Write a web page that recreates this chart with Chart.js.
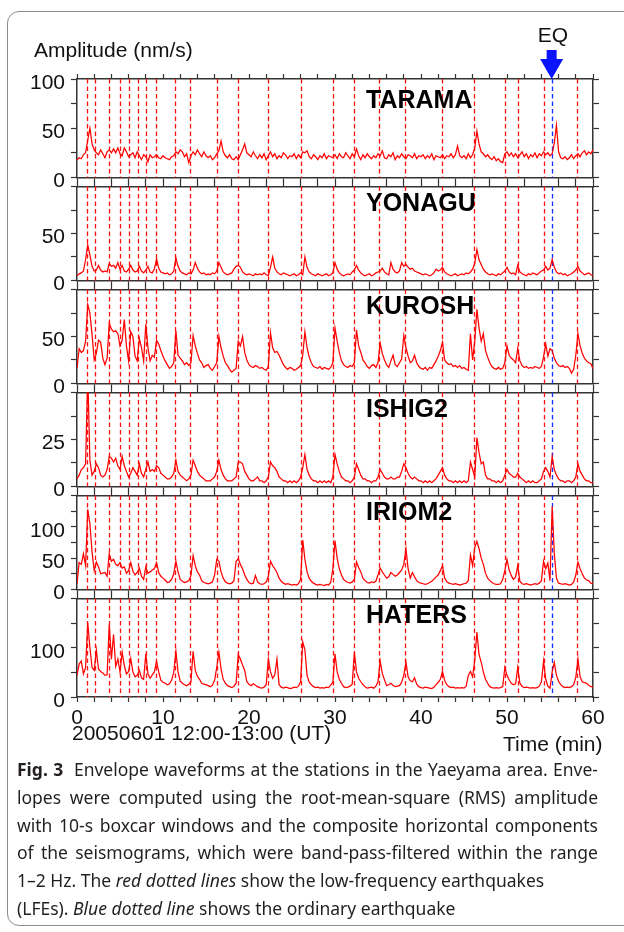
<!DOCTYPE html>
<html>
<head>
<meta charset="utf-8">
<script src="https://cdn.jsdelivr.net/npm/chart.js@4.4.1/dist/chart.umd.min.js"></script>
<style>
  html, body { margin: 0; padding: 0; background: #fff; }
  body { width: 624px; height: 932px; position: relative; overflow: hidden; font-family: "Liberation Sans", Arial, sans-serif; }
  .frame { position: absolute; left: 7px; top: 11px; width: 660px; height: 915px; border: 1.5px solid #8c8c8c; border-radius: 12px; box-sizing: border-box; }
  canvas { position: absolute; left: 0; }
  .lbl { position: absolute; font-size: 21px; line-height: 21px; color: #111; white-space: nowrap; }
  .stn { position: absolute; left: 366px; font-size: 25px; line-height: 25px; font-weight: bold; color: #000; }
  .caption { position: absolute; left: 17px; top: 756px; width: 581px; font-family: "Noto Sans", sans-serif; font-size: 17.5px; line-height: 27.8px; color: #231f20; }
  .caption div { white-space: nowrap; }
  .caption .j { text-align: justify; text-align-last: justify; }
</style>
</head>
<body>
<div class="frame"></div>
<div id="plots"></div>

<div class="lbl" style="left:34px; top:39px;">Amplitude (nm/s)</div>
<div class="lbl" style="left:533px; top:24px; width:40px; text-align:center;">EQ</div>
<div class="lbl" style="left:72px; top:722px;">20050601 12:00-13:00 (UT)</div>
<div class="lbl" style="left:503px; top:733px;">Time (min)</div>

<div class="caption">
  <div class="j"><b>Fig. 3</b>&nbsp; Envelope waveforms at the stations in the Yaeyama area. Enve-</div>
  <div class="j">lopes were computed using the root-mean-square (RMS) amplitude</div>
  <div class="j">with 10-s boxcar windows and the composite horizontal components</div>
  <div class="j">of the seismograms, which were band-pass-filtered within the range</div>
  <div>1–2 Hz. The <i>red dotted lines</i> show the low-frequency earthquakes</div>
  <div>(LFEs). <i>Blue dotted line</i> shows the ordinary earthquake</div>
</div>

<script>
// envelope samples every 0.25 min, 12:00-13:00 UT
const sampleStep = 0.25;

const tarama = [
  18, 20, 19, 23, 25, 38, 50, 34, 28, 25, 23, 28, 24, 20, 26, 28, 25, 29, 25, 30,
  24, 22, 30, 26, 21, 23, 25, 20, 26, 22, 18, 23, 21, 16, 23, 20, 21, 23, 20, 19,
  22, 20, 19, 18, 21, 22, 26, 24, 28, 26, 21, 24, 15, 22, 26, 23, 28, 24, 21, 26,
  22, 20, 22, 18, 20, 24, 27, 37, 26, 22, 20, 23, 19, 18, 21, 18, 23, 28, 34, 25,
  23, 21, 26, 22, 19, 23, 20, 24, 18, 22, 26, 21, 24, 19, 22, 20, 25, 23, 19, 22,
  21, 24, 19, 23, 20, 26, 25, 27, 21, 19, 23, 21, 18, 22, 20, 24, 19, 22, 21, 20,
  23, 19, 24, 21, 20, 25, 22, 19, 24, 21, 29, 22, 18, 23, 20, 24, 21, 19, 22, 20,
  24, 22, 27, 20, 19, 23, 21, 25, 18, 22, 20, 24, 21, 19, 23, 22, 20, 24, 19, 22,
  21, 23, 19, 22, 20, 24, 18, 22, 21, 20, 23, 19, 22, 21, 24, 20, 23, 32, 22, 20,
  22, 19, 24, 20, 23, 30, 47, 34, 26, 24, 21, 23, 20, 18, 21, 17, 19, 16, 15, 24,
  26, 22, 25, 21, 24, 20, 23, 26, 21, 24, 19, 23, 21, 25, 20, 24, 22, 26, 23, 25,
  22, 24, 35, 53, 26, 20, 19, 21, 18, 20, 23, 19, 22, 24, 21, 25, 27, 23, 26, 24,
  28
];

const yonagu = [
  5, 7, 8, 10, 22, 38, 27, 15, 10, 11, 16, 11, 9, 10, 9, 18, 15, 16, 13, 19,
  12, 16, 10, 9, 12, 16, 11, 9, 10, 15, 10, 8, 11, 15, 9, 8, 12, 23, 13, 9,
  8, 7, 8, 6, 7, 10, 24, 15, 10, 8, 7, 6, 8, 7, 11, 19, 13, 9, 7, 8,
  6, 7, 6, 8, 7, 10, 19, 14, 9, 7, 6, 7, 8, 12, 15, 16, 14, 9, 7, 6,
  7, 6, 5, 7, 6, 7, 6, 8, 6, 5, 14, 25, 13, 9, 7, 6, 8, 7, 6, 5,
  6, 7, 5, 6, 8, 6, 25, 14, 9, 7, 6, 5, 7, 6, 5, 6, 7, 5, 6, 8,
  19, 12, 8, 6, 5, 6, 7, 6, 9, 11, 16, 11, 8, 6, 5, 6, 7, 5, 6, 8,
  9, 10, 13, 9, 7, 6, 19, 12, 9, 8, 10, 19, 15, 17, 14, 12, 13, 10, 9, 8,
  7, 6, 7, 6, 5, 6, 8, 12, 10, 11, 14, 9, 7, 6, 5, 6, 7, 5, 6, 7,
  6, 8, 7, 9, 12, 18, 33, 22, 17, 12, 9, 7, 6, 7, 6, 5, 7, 6, 8, 10,
  14, 9, 7, 8, 6, 16, 9, 7, 6, 5, 7, 6, 8, 7, 6, 8, 10, 11, 15, 11,
  13, 22, 14, 9, 7, 8, 6, 7, 5, 6, 7, 9, 11, 15, 10, 8, 6, 7, 8, 6,
  5
];

const kurosh = [
  16, 37, 33, 35, 45, 84, 75, 52, 25, 32, 46, 44, 27, 20, 27, 64, 58, 55, 56, 53,
  40, 46, 68, 40, 24, 55, 50, 29, 24, 48, 38, 24, 63, 38, 24, 30, 28, 46, 42, 35,
  29, 24, 20, 16, 18, 22, 56, 30, 27, 24, 20, 22, 19, 22, 51, 40, 32, 25, 22, 17,
  19, 20, 16, 14, 18, 22, 50, 38, 29, 22, 19, 15, 12, 14, 16, 45, 40, 50, 33, 25,
  20, 18, 17, 19, 18, 16, 17, 15, 14, 18, 54, 38, 33, 34, 30, 25, 20, 17, 15, 17,
  16, 14, 15, 17, 19, 30, 55, 38, 28, 22, 18, 17, 16, 18, 15, 17, 16, 15, 17, 22,
  59, 45, 33, 24, 20, 18, 17, 19, 18, 22, 57, 40, 33, 25, 22, 18, 16, 19, 20, 17,
  22, 43, 32, 25, 20, 17, 24, 30, 20, 18, 22, 26, 51, 38, 29, 22, 24, 30, 22, 18,
  16, 15, 17, 14, 17, 16, 20, 24, 29, 35, 44, 25, 22, 20, 21, 18, 19, 17, 19, 16,
  17, 15, 14, 53, 25, 45, 79, 59, 45, 53, 35, 28, 22, 18, 16, 15, 17, 15, 16, 22,
  40, 30, 27, 25, 22, 37, 24, 19, 17, 18, 16, 17, 16, 18, 17, 16, 18, 28, 42, 29,
  37, 35, 27, 22, 19, 18, 19, 17, 18, 16, 11, 15, 30, 53, 40, 32, 27, 24, 22, 21,
  16
];

const ishig2 = [
  4, 6, 9, 10, 12, 60, 14, 6, 8, 12, 10, 6, 5, 6, 9, 16, 15, 13, 15, 11,
  9, 16, 11, 8, 5, 7, 10, 8, 6, 12, 7, 5, 9, 13, 8, 9, 8, 11, 10, 7,
  6, 5, 4, 4, 5, 7, 14, 8, 6, 5, 4, 3, 4, 6, 14, 11, 8, 6, 5, 4,
  3, 3, 3, 4, 5, 8, 14, 9, 6, 4, 3, 3, 3, 4, 5, 13, 13, 12, 8, 6,
  4, 3, 3, 4, 5, 3, 3, 2, 3, 5, 13, 11, 10, 8, 5, 4, 3, 3, 2, 3,
  2, 3, 2, 3, 5, 10, 17, 9, 6, 4, 3, 3, 2, 3, 2, 3, 2, 3, 2, 5,
  17, 12, 8, 5, 4, 3, 3, 2, 3, 5, 12, 9, 6, 4, 4, 3, 3, 2, 3, 3,
  5, 9, 7, 5, 4, 4, 5, 4, 4, 5, 5, 8, 12, 10, 7, 5, 4, 5, 4, 3,
  3, 2, 3, 2, 3, 2, 3, 4, 6, 8, 10, 6, 4, 3, 3, 2, 3, 2, 3, 2,
  3, 2, 3, 13, 9, 5, 26, 18, 12, 13, 6, 4, 4, 3, 3, 2, 3, 2, 3, 6,
  9, 7, 6, 5, 5, 7, 5, 4, 3, 2, 3, 2, 3, 2, 2, 3, 4, 8, 10, 8,
  5, 16, 9, 6, 4, 3, 3, 2, 3, 3, 2, 3, 5, 12, 8, 6, 4, 3, 3, 2,
  2
];

const iriom2 = [
  9, 43, 40, 57, 38, 128, 105, 60, 30, 44, 36, 25, 26, 27, 21, 57, 45, 48, 40, 38,
  43, 34, 36, 26, 30, 43, 29, 23, 27, 34, 21, 16, 36, 26, 28, 31, 33, 43, 27, 21,
  18, 15, 11, 12, 16, 25, 45, 28, 16, 13, 11, 12, 14, 22, 54, 38, 28, 23, 14, 11,
  10, 9, 10, 12, 23, 48, 45, 28, 18, 12, 10, 9, 10, 14, 45, 49, 40, 33, 23, 16,
  11, 9, 10, 22, 12, 9, 8, 9, 12, 21, 45, 38, 33, 27, 18, 13, 10, 8, 9, 8,
  7, 8, 7, 9, 16, 79, 48, 28, 18, 13, 10, 8, 7, 8, 7, 6, 8, 7, 11, 33,
  78, 50, 33, 23, 16, 13, 11, 10, 12, 16, 44, 35, 28, 18, 14, 11, 10, 12, 11, 13,
  23, 34, 28, 23, 18, 20, 27, 24, 21, 23, 27, 31, 40, 65, 33, 18, 27, 20, 14, 11,
  10, 9, 8, 9, 11, 13, 16, 20, 23, 30, 38, 18, 12, 10, 9, 8, 9, 8, 7, 8,
  9, 10, 14, 55, 38, 67, 77, 65, 50, 40, 26, 18, 14, 11, 9, 8, 8, 9, 16, 30,
  48, 31, 22, 16, 20, 38, 13, 9, 8, 9, 8, 7, 8, 9, 8, 10, 14, 45, 33, 42,
  14, 133, 57, 18, 10, 9, 8, 9, 8, 7, 8, 12, 23, 44, 33, 25, 18, 15, 14, 10,
  9
];

const haters = [
  44, 67, 73, 47, 60, 151, 100, 60, 54, 95, 57, 52, 49, 44, 45, 147, 77, 127, 62, 77,
  51, 91, 64, 47, 52, 78, 51, 41, 44, 54, 39, 36, 88, 47, 38, 45, 51, 73, 51, 34,
  30, 28, 25, 27, 34, 50, 93, 51, 32, 28, 25, 23, 26, 31, 93, 54, 42, 36, 28, 26,
  25, 23, 21, 24, 34, 60, 91, 57, 36, 28, 23, 21, 19, 22, 28, 86, 77, 65, 54, 31,
  26, 23, 27, 24, 21, 19, 18, 20, 25, 77, 51, 38, 45, 77, 25, 20, 18, 20, 19, 17,
  18, 20, 19, 22, 31, 112, 96, 44, 30, 25, 21, 19, 20, 18, 19, 18, 20, 19, 24, 30,
  88, 51, 36, 28, 21, 19, 20, 22, 26, 91, 51, 38, 31, 25, 21, 18, 19, 20, 18, 22,
  31, 73, 48, 35, 23, 25, 28, 24, 21, 22, 23, 30, 44, 71, 41, 33, 31, 39, 26, 21,
  19, 18, 20, 19, 18, 17, 20, 25, 30, 36, 52, 34, 25, 21, 19, 20, 18, 19, 18, 19,
  18, 22, 44, 52, 41, 75, 132, 86, 71, 51, 36, 28, 21, 19, 18, 19, 18, 19, 21, 60,
  44, 35, 28, 25, 27, 60, 28, 22, 19, 20, 19, 18, 19, 18, 19, 22, 31, 73, 36, 22,
  18, 51, 70, 44, 32, 25, 21, 19, 20, 19, 21, 25, 40, 77, 41, 31, 29, 28, 24, 21,
  21
];

// LFE origin times (min) and the ordinary earthquake
const lfeTimes = [1.13, 2.15, 3.72, 5.05, 6.03, 7.08, 8.02, 9.2, 11.35, 13.19, 16.28, 18.71,
  22.23, 26.1, 29.78, 32.25, 35.07, 38.12, 42.47, 46.18, 49.78, 51.23, 54.25, 58.12];
const eqTime = 55.19;

const stations = ['TARAMA', 'YONAGU', 'KUROSH', 'ISHIG2', 'IRIOM2', 'HATERS'];
const series = [tarama, yonagu, kurosh, ishig2, iriom2, haters];
const yMax = [100, 100, 100, 50, 150, 200];
const yStep = [25, 25, 25, 12.5, 25, 50];
const yLabels = [[0, 50, 100], [0, 50], [0, 50], [0, 25], [0, 50, 100], [0, 100]];
const xLabels = [0, 10, 20, 30, 40, 50, 60];

const PANEL_TOP = 79, PANEL_H = 103;
const AXIS_W = 77, RIGHT_W = 31;
const ink = '#333';
const tickFont = { family: 'Liberation Sans', size: 21 };

const markers = {
  id: 'markers',
  beforeDatasetsDraw(chart) {
    const { ctx, chartArea: a, scales: { x } } = chart;
    ctx.save();
    ctx.lineWidth = 1.3;
    ctx.setLineDash([4.5, 3]);
    ctx.strokeStyle = '#ff1010';
    lfeTimes.forEach(t => {
      const px = Math.round(x.getPixelForValue(t)) + 0.5;
      ctx.beginPath(); ctx.moveTo(px, a.top); ctx.lineTo(px, a.bottom); ctx.stroke();
    });
    ctx.strokeStyle = '#1830ff';
    const ex = Math.round(x.getPixelForValue(eqTime)) + 0.5;
    ctx.beginPath(); ctx.moveTo(ex, a.top); ctx.lineTo(ex, a.bottom); ctx.stroke();
    ctx.restore();
  },
  afterDraw(chart, args, opts) {
    if (!opts.arrow) return;
    const { ctx, chartArea: a, scales: { x } } = chart;
    const ex = x.getPixelForValue(eqTime);
    ctx.save();
    ctx.fillStyle = '#0a14ff';
    ctx.fillRect(ex - 5, a.top - 29, 10, 11);
    ctx.beginPath();
    ctx.moveTo(ex - 11.5, a.top - 20);
    ctx.lineTo(ex + 11.5, a.top - 20);
    ctx.lineTo(ex, a.top);
    ctx.closePath();
    ctx.fill();
    ctx.restore();
  }
};

const plots = document.getElementById('plots');

stations.forEach((name, i) => {
  const first = i === 0, last = i === stations.length - 1;
  const padTop = first ? 60 : 0;
  const topH = 14, botH = last ? 40 : 14;
  const top = PANEL_TOP + i * PANEL_H;

  const canvas = document.createElement('canvas');
  canvas.width = 624;
  canvas.height = padTop + topH + PANEL_H + botH;
  canvas.style.top = (top - padTop - topH) + 'px';
  plots.appendChild(canvas);

  const label = document.createElement('div');
  label.className = 'stn';
  label.style.top = (top + 7.8) + 'px';
  label.textContent = name;
  plots.appendChild(label);

  const grid = { drawOnChartArea: false, drawTicks: true, tickLength: 5, tickColor: ink, tickWidth: 1.2 };
  const border = { display: true, color: ink, width: 1.5 };

  new Chart(canvas, {
    type: 'line',
    data: {
      datasets: [{
        data: series[i].map((v, k) => ({ x: k * sampleStep, y: v })),
        borderColor: '#ff0000',
        borderWidth: 1.25,
        pointRadius: 0,
        tension: 0,
        fill: false
      }]
    },
    options: {
      responsive: false,
      animation: false,
      devicePixelRatio: 1,
      layout: { padding: { top: padTop, left: 0, right: 0, bottom: 0 } },
      plugins: { legend: { display: false }, tooltip: { enabled: false }, markers: { arrow: first } },
      scales: {
        x: {
          type: 'linear', position: 'bottom', min: 0, max: 60,
          afterFit: s => { s.height = botH; },
          border, grid,
          ticks: {
            display: last, stepSize: 2, autoSkip: false, maxRotation: 0, padding: 4,
            color: '#111', font: tickFont,
            callback: v => xLabels.includes(v) ? String(v) : ''
          }
        },
        xTop: {
          type: 'linear', position: 'top', min: 0, max: 60,
          afterFit: s => { s.height = topH; },
          border, grid,
          ticks: { display: false, stepSize: 2, autoSkip: false }
        },
        y: {
          type: 'linear', position: 'left', min: 0, max: yMax[i],
          afterFit: s => { s.width = AXIS_W; },
          border, grid: { ...grid, tickLength: 6 },
          ticks: {
            stepSize: yStep[i], autoSkip: false, padding: 6, labelOffset: 4,
            color: '#111', font: tickFont,
            callback: v => yLabels[i].includes(v) ? String(v) : ''
          }
        },
        yRight: {
          type: 'linear', position: 'right', min: 0, max: yMax[i],
          afterFit: s => { s.width = RIGHT_W; },
          border, grid: { ...grid, tickLength: 6 },
          ticks: { display: false, stepSize: yStep[i], autoSkip: false }
        }
      }
    },
    plugins: [markers]
  });
});
</script>
</body>
</html>
